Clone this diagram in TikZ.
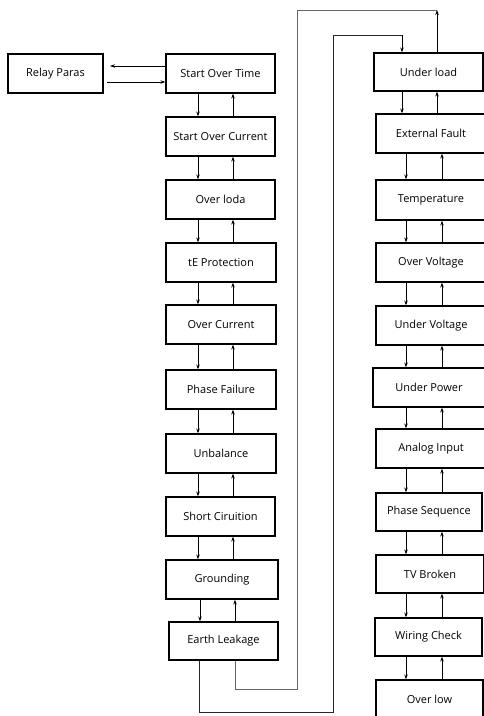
\documentclass[tikz,border=0pt]{standalone}
\usepackage{fontspec}
\setmainfont{Open Sans}
\usetikzlibrary{arrows.meta}
\begin{document}
\begin{tikzpicture}[x=1pt,y=-1pt,
  box/.style={draw,line width=1.2pt,inner sep=0pt,minimum height=39pt,font=\fontsize{11}{13}\selectfont},
  lbox/.style={box,minimum width=110pt},
  rbox/.style={box,minimum width=107pt},
  conn/.style={line width=0.8pt,-{Stealth[length=5pt,width=3.5pt]}},
  loopa/.style={line width=0.9pt,draw=black!85},
  loopb/.style={line width=0.9pt,draw=black!60}]
\clip (0,0) rectangle (484,716);
\fill[white] (0,0) rectangle (484,716);
% left column
\node[box,minimum width=95pt] (rp) at (55.5,73.5) {Relay Paras};
\node[lbox,minimum width=109pt] (sot) at (220.5,73.5) {Start Over Time};
\node[lbox,minimum width=109pt] (soc) at (220.5,136.5) {Start Over Current};
\node[lbox,minimum width=109pt] (ol) at (220.5,199.5) {Over loda};
\node[lbox] (te) at (221,262.5) {tE Protection};
\node[lbox] (oc) at (221,324.5) {Over Current};
\node[lbox] (pf) at (221,389.5) {Phase Failure};
\node[lbox] (ub) at (221,453.5) {Unbalance};
\node[lbox,minimum width=109pt] (sc) at (220.5,516.5) {Short Ciruition};
\node[lbox,minimum width=112pt] (gr) at (222,579.5) {Grounding};
\node[lbox,minimum width=109pt,minimum height=38pt] (el) at (223.5,641) {Earth Leakage};
% right column
\node[rbox,minimum width=109pt,minimum height=38pt] (ul) at (428.5,72) {Under load};
\node[rbox,minimum width=110pt] (ef) at (431,133.5) {External Fault};
\node[rbox,minimum width=110pt,minimum height=40pt] (tp) at (431,200) {Temperature};
\node[rbox,minimum width=110pt] (ov) at (431,262.5) {Over Voltage};
\node[rbox,minimum width=110pt] (uv) at (431,325.5) {Under Voltage};
\node[rbox,minimum width=112pt] (upw) at (429,387.5) {Under Power};
\node[rbox,minimum width=110pt] (ai) at (431,448.5) {Analog Input};
\node[rbox,minimum width=106pt,minimum height=38pt] (ps) at (429,512) {Phase Sequence};
\node[rbox,minimum width=108pt,minimum height=38pt] (tv) at (430,574) {TV Broken};
\node[rbox,minimum width=107pt,minimum height=38pt] (wc) at (428.5,637) {Wiring Check};
\node[rbox,minimum width=107pt] (olw) at (429.5,699.5) {Over low};
% relay paras arrows
\draw[conn] (sot.west |- 0,66) -- (110,66);
\draw[conn] (107,82) -- (sot.west |- 0,82);
% left column arrows
\foreach \a/\b in {sot/soc,soc/ol,ol/te,te/oc,oc/pf,pf/ub,ub/sc,sc/gr}{
  \draw[conn] (\a.south -| 198,0) -- (\b.north -| 198,0);
  \draw[conn] (\b.north -| 233,0) -- (\a.south -| 233,0);
}
\draw[conn] (gr.south -| 200,0) -- (el.north -| 200,0);
\draw[conn] (el.north -| 235,0) -- (gr.south -| 235,0);
% right column arrows
\draw[conn] (ul.south -| 402,0) -- (ef.north -| 402,0);
\draw[conn] (ef.north -| 437,0) -- (ul.south -| 437,0);
\foreach \a/\b in {ef/tp,tp/ov,ov/uv,uv/upw,upw/ai,ai/ps,ps/tv,tv/wc,wc/olw}{
  \draw[conn] (\a.south -| 406,0) -- (\b.north -| 406,0);
  \draw[conn] (\b.north -| 442,0) -- (\a.south -| 442,0);
}
% loops
\coordinate (c1) at (437,10);
\draw[loopa] (el.south -| 199,0) -- (199,712) -- (333,712) -- (333,35) -- (402,35)
  edge[conn,draw=black] (ul.north -| 402,0);
\draw[conn] (ul.north -| 437,0) -- (c1);
\draw[loopb] (c1) -- (297,10) -- (297,689) -- (235,689) -- (el.south -| 235,0);
\end{tikzpicture}
\end{document}
